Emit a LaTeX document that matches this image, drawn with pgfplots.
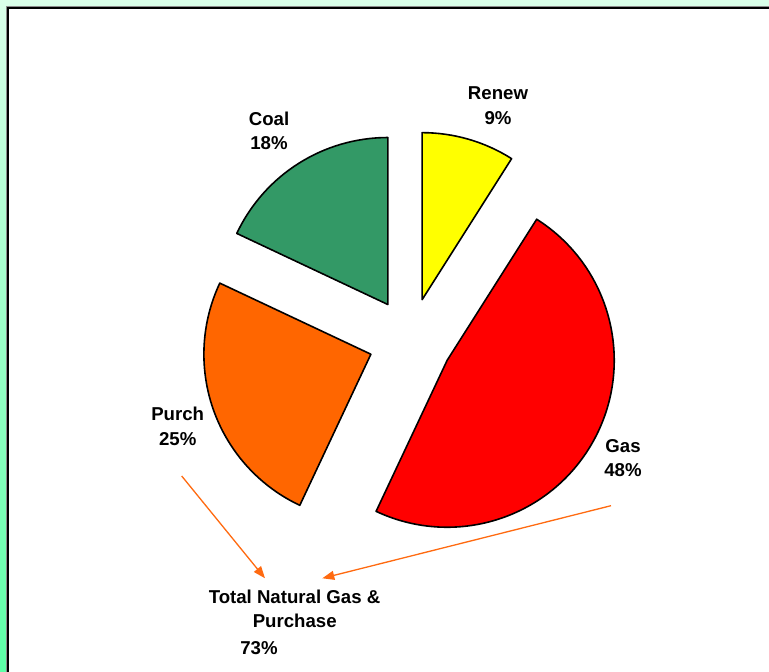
\documentclass[border=0pt]{standalone}
\usepackage{pgfplots}
\pgfplotsset{compat=1.18}
\usepackage{fontspec}
\setmainfont{Liberation Sans}
\usetikzlibrary{arrows.meta}
\definecolor{cRenew}{HTML}{FFFF00}
\definecolor{cGas}{HTML}{FF0000}
\definecolor{cPurch}{HTML}{FF6600}
\definecolor{cCoal}{HTML}{339966}
\definecolor{bgTop}{HTML}{DAFFE9}
\definecolor{bgBot}{HTML}{5CFFA6}
\definecolor{arr}{HTML}{FF6A10}
\begin{document}
\begin{tikzpicture}
\begin{axis}[
  name=ax,
  x=1bp, y=1bp,
  xmin=0, xmax=769, ymin=0, ymax=672,
  hide axis, clip=false,
]
% background
\pgfplotsextra{
  \shade[top color=bgTop, bottom color=bgBot] (axis cs:0,0) rectangle (axis cs:769,672);
  \fill[white] (axis cs:8,0) rectangle (axis cs:769,664);
  \draw[black!45, line width=0.8bp] (axis cs:6.6,0) -- (axis cs:6.6,665.4) -- (axis cs:769,665.4);
  \draw[black, line width=2bp] (axis cs:8,0) -- (axis cs:8,664) -- (axis cs:769,664);
  % pie slices: Renew 9, Gas 48, Purch 25, Coal 18 (percent), clockwise from 12 o'clock
  \xdef\cur{90}
  \foreach \v/\c in {9/cRenew,48/cGas,25/cPurch,18/cCoal}{
    \pgfmathsetmacro\aa{\cur}
    \pgfmathsetmacro\bb{\cur-3.6*\v}
    \pgfmathsetmacro\mm{(\aa+\bb)/2}
    \draw[fill=\c, line width=1.6bp, line join=round]
      (axis cs:410.4,332) ++(\mm:42bp) -- ++(\aa:167bp)
      arc[start angle=\aa, end angle=\bb, radius=167bp] -- cycle;
    \xdef\cur{\bb}
  }
  % arrows
  \draw[arr, line width=1.3bp, -{Triangle[length=12bp,width=9bp]}] (axis cs:181.7,196) -- (axis cs:265,93.7);
  \draw[arr, line width=1.3bp, -{Triangle[length=12bp,width=9bp]}] (axis cs:611,166.3) -- (axis cs:322.3,93.7);
}
\tikzset{lab/.style={anchor=base, inner sep=0pt, font=\fontsize{18.7}{24}\selectfont\bfseries}}
\node[lab] at (axis cs:498,572.7) {Renew};
\node[lab] at (axis cs:498,547.7) {9\%};
\node[lab] at (axis cs:269,546) {Coal};
\node[lab] at (axis cs:269,522) {18\%};
\node[lab] at (axis cs:177.7,251.3) {Purch};
\node[lab] at (axis cs:177.7,226.7) {25\%};
\node[lab] at (axis cs:623,219.7) {Gas};
\node[lab] at (axis cs:623,195) {48\%};
\node[lab] at (axis cs:294.5,68) {Total Natural Gas \&};
\node[lab] at (axis cs:294.7,44.3) {Purchase};
\node[lab] at (axis cs:259,17.7) {73\%};
\end{axis}
\pgfresetboundingbox
\path (ax.south west) rectangle (ax.north east);
\end{tikzpicture}
\end{document}
